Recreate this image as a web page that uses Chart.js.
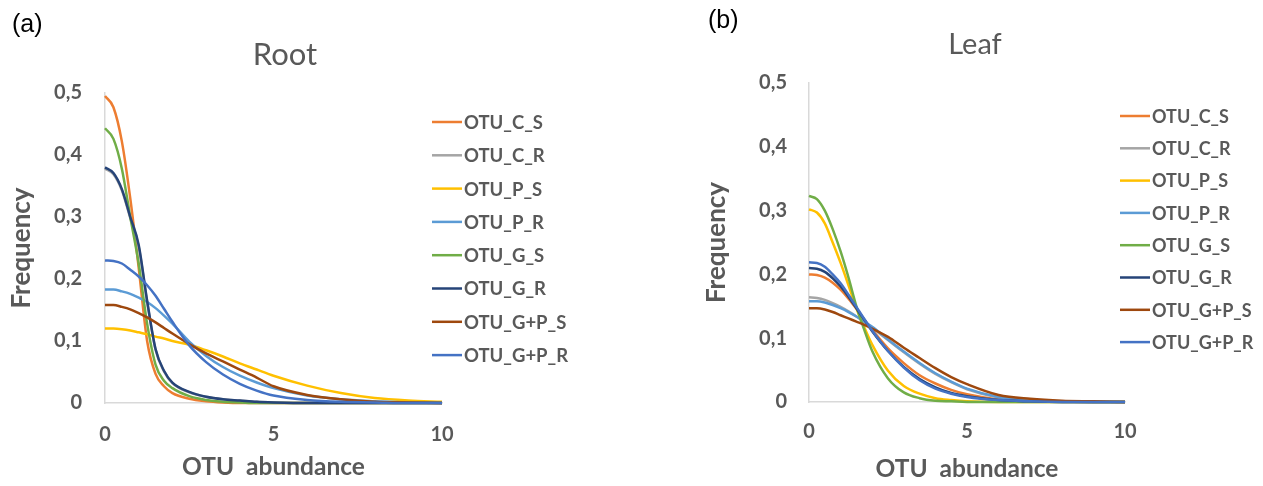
<!DOCTYPE html>
<html>
<head>
<meta charset="utf-8">
<script src="https://cdn.jsdelivr.net/npm/chart.js@4.4.1/dist/chart.umd.min.js"></script>
<style>
  body { margin: 0; background: #fff; }
  .panel { position: absolute; top: 0; height: 486px; }
  #left { left: 0; width: 631px; }
  #right { left: 631px; width: 632px; }
</style>
</head>
<body>
<div class="panel" id="left"><canvas id="rootChart"></canvas></div>
<div class="panel" id="right"><canvas id="leafChart"></canvas></div>
<script>
// shared x positions (OTU abundance)
const xs = [0, 0.25, 0.5, 0.75, 1, 1.25, 1.5, 1.75, 2, 2.5, 3, 3.5, 4, 4.5, 5, 6, 7, 8, 9, 10];

const seriesNames = ["OTU_C_S", "OTU_C_R", "OTU_P_S", "OTU_P_R", "OTU_G_S", "OTU_G_R", "OTU_G+P_S", "OTU_G+P_R"];
const seriesColors = ["#ED7D31", "#A5A5A5", "#FFC000", "#5B9BD5", "#70AD47", "#264478", "#9E480E", "#4472C4"];

const xTickLabels = ["0", "5", "10"];
const yTickLabels = ["0", "0,1", "0,2", "0,3", "0,4", "0,5"];

// Root
const rootCS = [0.495, 0.477, 0.422, 0.33, 0.218, 0.1, 0.047, 0.027, 0.016, 0.007, 0.003, 0.001, 0, 0, 0, 0, 0, 0, 0, 0];
const rootCR = [0.378, 0.369, 0.343, 0.298, 0.252, 0.163, 0.086, 0.051, 0.032, 0.017, 0.01, 0.006, 0.004, 0.002, 0.001, 0, 0, 0, 0, 0];
const rootPS = [0.12, 0.12, 0.119, 0.117, 0.114, 0.111, 0.107, 0.104, 0.1, 0.094, 0.085, 0.075, 0.064, 0.054, 0.044, 0.028, 0.016, 0.008, 0.004, 0.002];
const rootPR = [0.183, 0.183, 0.18, 0.176, 0.17, 0.163, 0.153, 0.141, 0.128, 0.099, 0.076, 0.058, 0.044, 0.033, 0.024, 0.012, 0.006, 0.003, 0.001, 0];
const rootGS = [0.443, 0.426, 0.378, 0.3, 0.225, 0.128, 0.062, 0.036, 0.024, 0.011, 0.005, 0.002, 0.001, 0, 0, 0, 0, 0, 0, 0];
const rootGR = [0.38, 0.371, 0.345, 0.3, 0.255, 0.165, 0.087, 0.052, 0.033, 0.018, 0.01, 0.006, 0.004, 0.002, 0.001, 0, 0, 0, 0, 0];
const rootGPS = [0.158, 0.158, 0.155, 0.151, 0.145, 0.138, 0.13, 0.121, 0.112, 0.095, 0.08, 0.067, 0.054, 0.041, 0.027, 0.013, 0.006, 0.002, 0.001, 0];
const rootGPR = [0.23, 0.229, 0.225, 0.215, 0.204, 0.19, 0.173, 0.152, 0.131, 0.093, 0.066, 0.046, 0.031, 0.02, 0.012, 0.005, 0.002, 0.001, 0, 0];

// Leaf
const leafCS = [0.2, 0.199, 0.195, 0.187, 0.176, 0.162, 0.146, 0.129, 0.113, 0.084, 0.061, 0.042, 0.029, 0.019, 0.012, 0.004, 0.002, 0.001, 0, 0];
const leafCR = [0.164, 0.163, 0.16, 0.155, 0.149, 0.142, 0.134, 0.125, 0.116, 0.097, 0.078, 0.06, 0.044, 0.031, 0.02, 0.007, 0.002, 0.001, 0, 0];
const leafPS = [0.302, 0.297, 0.28, 0.25, 0.218, 0.183, 0.147, 0.117, 0.09, 0.049, 0.025, 0.013, 0.006, 0.003, 0.001, 0, 0, 0, 0, 0];
const leafPR = [0.158, 0.158, 0.156, 0.152, 0.147, 0.141, 0.134, 0.126, 0.118, 0.098, 0.079, 0.061, 0.045, 0.032, 0.021, 0.008, 0.003, 0.001, 0, 0];
const leafGS = [0.323, 0.318, 0.3, 0.271, 0.236, 0.195, 0.15, 0.113, 0.08, 0.037, 0.015, 0.006, 0.002, 0.001, 0, 0, 0, 0, 0, 0];
const leafGR = [0.21, 0.209, 0.204, 0.194, 0.181, 0.165, 0.147, 0.129, 0.111, 0.08, 0.055, 0.036, 0.023, 0.014, 0.009, 0.003, 0.001, 0, 0, 0];
const leafGPS = [0.147, 0.147, 0.145, 0.141, 0.136, 0.131, 0.126, 0.121, 0.115, 0.102, 0.085, 0.069, 0.053, 0.039, 0.028, 0.011, 0.005, 0.002, 0.001, 0];
const leafGPR = [0.219, 0.218, 0.212, 0.2, 0.186, 0.168, 0.149, 0.13, 0.112, 0.08, 0.054, 0.034, 0.021, 0.013, 0.008, 0.003, 0.001, 0, 0, 0];

const TEXT = "#595959";

// title, panel letter and legend (legend sits over the x axis range like in Excel)
const panelDecor = {
  id: "panelDecor",
  afterDraw(chart, args, opts) {
    const ctx = chart.ctx;
    ctx.save();
    ctx.fillStyle = "#000";
    ctx.font = '25px "Liberation Sans"';
    ctx.textAlign = "left";
    ctx.textBaseline = "alphabetic";
    ctx.fillText(opts.tag, opts.tagX, opts.tagY);

    ctx.fillStyle = TEXT;
    ctx.font = opts.titleSize + "px Lato";
    ctx.textAlign = "center";
    ctx.textBaseline = "middle";
    ctx.fillText(opts.title, opts.titleX, opts.titleY);

    ctx.font = "bold " + opts.legendSize + "px Lato";
    ctx.textAlign = "left";
    chart.data.datasets.forEach((ds, i) => {
      const y = opts.legendY + i * opts.legendStep;
      ctx.strokeStyle = ds.borderColor;
      ctx.lineWidth = 2.5;
      ctx.beginPath();
      ctx.moveTo(opts.legendX, y);
      ctx.lineTo(opts.legendX + 30, y);
      ctx.stroke();
      ctx.fillText(ds.label, opts.legendX + 32, y + 1);
    });
    ctx.restore();
  }
};

const makeDatasets = (rows) =>
  rows.map((vals, i) => ({
    label: seriesNames[i],
    data: vals.map((v, j) => ({ x: xs[j], y: v })),
    borderColor: seriesColors[i],
    backgroundColor: seriesColors[i],
    borderWidth: 2.5,
    pointRadius: 0,
    cubicInterpolationMode: "monotone",
    order: rows.length - i,
    clip: 4,
  }));

const makeChart = (id, rows, lay) => {
  const config = {
    type: "line",
    data: { datasets: makeDatasets(rows) },
    options: {
      responsive: true,
      maintainAspectRatio: false,
      animation: false,
      layout: { padding: { top: lay.top, left: 0, right: lay.right, bottom: 0 } },
      plugins: {
        legend: { display: false },
        tooltip: { enabled: false },
        panelDecor: lay.decor,
      },
      scales: {
        x: {
          type: "linear",
          min: 0,
          max: 10,
          afterFit: (s) => { s.height = lay.xHeight; },
          grid: { display: false, drawTicks: false },
          border: { color: "#D9D9D9", width: 1.5 },
          ticks: {
            stepSize: 5,
            padding: lay.xTickPad,
            color: TEXT,
            font: { family: "Lato", size: 20, weight: "bold" },
            maxRotation: 0,
            callback: (v, i) => xTickLabels[i],
          },
          title: {
            display: true,
            text: "OTU  abundance",
            color: TEXT,
            font: { family: "Lato", size: 24.5, weight: "bold", lineHeight: 1.2 },
            padding: { top: 0, bottom: lay.xTitlePad },
          },
        },
        y: {
          min: 0,
          max: 0.5,
          afterFit: (s) => { s.width = lay.yWidth; },
          grid: { display: false, drawTicks: false },
          border: { color: "#D9D9D9", width: 1.5 },
          ticks: {
            stepSize: 0.1,
            padding: lay.yTickPad,
            color: TEXT,
            font: { family: "Lato", size: 20, weight: "bold" },
            callback: (v, i) => yTickLabels[i],
          },
          title: {
            display: true,
            text: "Frequency",
            color: TEXT,
            font: { family: "Lato", size: 26, weight: "bold", lineHeight: 1.2 },
            padding: { top: lay.yTitlePad, bottom: 0 },
          },
        },
      },
    },
    plugins: [panelDecor],
  };
  return new Chart(document.getElementById(id), config);
};

makeChart("rootChart",
  [rootCS, rootCR, rootPS, rootPR, rootGS, rootGR, rootGPS, rootGPR],
  {
    top: 93, right: 189, xHeight: 83, yWidth: 105,
    xTickPad: 20, yTickPad: 23, xTitlePad: 4, yTitlePad: 6,
    decor: {
      tag: "(a)", tagX: 12, tagY: 32,
      title: "Root", titleSize: 31, titleX: 285, titleY: 55,
      legendX: 432, legendY: 122, legendStep: 33.3, legendSize: 18.5,
    },
  });

makeChart("leafChart",
  [leafCS, leafCR, leafPS, leafPR, leafGS, leafGR, leafGPS, leafGPR],
  {
    top: 83, right: 138, xHeight: 84, yWidth: 178,
    xTickPad: 18, yTickPad: 22, xTitlePad: 2, yTitlePad: 70,
    decor: {
      tag: "(b)", tagX: 77, tagY: 28,
      title: "Leaf", titleSize: 29, titleX: 344, titleY: 45,
      legendX: 489, legendY: 116, legendStep: 32.3, legendSize: 18,
    },
  });
</script>
</body>
</html>
